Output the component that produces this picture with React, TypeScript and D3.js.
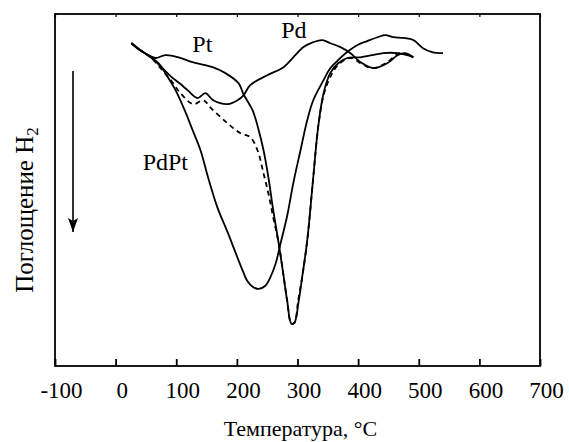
import React, { useEffect, useRef } from 'react';
import * as d3 from 'd3';

const margin = { top: 14, right: 29, bottom: 76, left: 55 };
const width = 569;
const height = 442;

// temperature, °C
const ptTemp = [26, 35, 45, 58, 66, 82, 104, 127, 160, 181, 203, 211, 226, 236, 244, 252, 260, 269, 277, 283, 290, 295, 302, 308, 316, 326, 334, 343, 354, 367, 382, 404, 423, 442, 465, 481, 491];
const ptSignal = [91.7, 90.3, 89.2, 88.0, 87.5, 88.3, 87.7, 86.3, 84.9, 83.2, 80.3, 77.2, 72.6, 67.0, 61.3, 53.6, 44.2, 34.8, 25.6, 18.5, 12.0, 12.3, 18.5, 25.6, 35.6, 53.6, 67.8, 77.5, 83.2, 86.0, 87.5, 87.7, 88.3, 88.9, 88.9, 88.3, 87.7];

const pdTemp = [26, 41, 58, 74, 91, 107, 119, 135, 148, 161, 185, 201, 211, 222, 250, 277, 293, 310, 326, 341, 354, 371, 387, 404, 425, 448, 465, 478, 491];
const pdSignal = [91.7, 89.7, 87.7, 85.2, 82.3, 80.1, 78.3, 76.1, 77.5, 75.5, 74.4, 75.5, 76.9, 79.8, 82.6, 84.9, 87.7, 90.6, 92.0, 92.6, 91.7, 90.6, 88.9, 86.3, 84.6, 86.0, 88.3, 88.9, 87.7];

const pdptTemp = [26, 41, 58, 71, 84, 99, 114, 127, 140, 153, 168, 185, 201, 211, 217, 226, 236, 247, 255, 264, 272, 283, 293, 305, 316, 326, 343, 354, 367, 382, 399, 415, 432, 445, 458, 474, 491, 507, 522, 540];
const pdptSignal = [91.7, 89.7, 87.7, 86.0, 82.6, 78.3, 72.6, 67.0, 61.3, 53.3, 45.0, 37.9, 30.8, 26.5, 24.2, 22.5, 21.9, 22.8, 25.1, 29.1, 34.8, 42.7, 51.9, 61.3, 69.8, 75.5, 81.2, 84.6, 86.9, 89.2, 91.2, 92.3, 93.4, 94.0, 93.4, 93.2, 92.6, 90.3, 89.2, 88.9];

// mixture (dashed)
const mixTemp = [26, 41, 58, 74, 91, 107, 128, 145, 156, 185, 206, 222, 234, 244, 252, 260, 269, 277, 283, 290, 295, 301, 308, 316, 326, 334, 343, 354, 367, 387, 409, 425, 448, 469, 491];
const mixSignal = [91.7, 89.7, 87.7, 84.6, 81.2, 77.5, 74.4, 75.5, 73.5, 68.9, 66.1, 65.0, 61.3, 54.7, 49.0, 42.2, 34.8, 25.6, 18.5, 12.0, 12.3, 18.5, 25.6, 35.6, 53.6, 67.8, 76.9, 82.1, 85.5, 87.5, 85.5, 84.6, 86.3, 88.9, 87.7];

const xTicks = [-100, 0, 100, 200, 300, 400, 500, 600, 700];

const labels = [
    { text: 'Pt', t: 143, v: 89.2 },
    { text: 'Pd', t: 294, v: 93.2 },
    { text: 'PdPt', t: 82, v: 55.7 },
];

const font = 'Liberation Serif';

export default function App() {
    const ref = useRef<SVGSVGElement>(null);

    useEffect(() => {
        const svg = d3.select(ref.current);
        svg.selectAll('*').remove();

        const x = d3.scaleLinear().domain([-100, 700]).range([margin.left, width - margin.right]);
        const y = d3.scaleLinear().domain([0, 100]).range([height - margin.bottom, margin.top]);

        const line = d3
            .line<[number, number]>()
            .x((d) => x(d[0]))
            .y((d) => y(d[1]))
            .curve(d3.curveCatmullRom.alpha(0.5));

        const series = [
            { t: ptTemp, v: ptSignal, dash: null },
            { t: pdTemp, v: pdSignal, dash: null },
            { t: pdptTemp, v: pdptSignal, dash: null },
            { t: mixTemp, v: mixSignal, dash: '5,4' },
        ];

        series.forEach((s) => {
            const pts = s.t.map((t, i) => [t, s.v[i]] as [number, number]);
            svg.append('path')
                .attr('d', line(pts))
                .attr('fill', 'none')
                .attr('stroke', '#000')
                .attr('stroke-width', 1.8)
                .attr('stroke-linejoin', 'round')
                .attr('stroke-dasharray', s.dash);
        });

        // frame
        svg.append('rect')
            .attr('x', x(-100))
            .attr('y', y(100))
            .attr('width', x(700) - x(-100))
            .attr('height', y(0) - y(100))
            .attr('fill', 'none')
            .attr('stroke', '#000')
            .attr('stroke-width', 1.8);

        // ticks, inward
        const bottom = svg.append('g')
            .attr('transform', `translate(0, ${y(0)})`)
            .call(d3.axisBottom(x).tickValues(xTicks).tickSizeInner(-7).tickSizeOuter(0).tickPadding(16).tickFormat((d) => String(d)));
        bottom.select('.domain').remove();
        bottom.attr('font-family', null).attr('font-size', null);
        bottom.selectAll('line').attr('stroke-width', 1.8);
        bottom.selectAll('text')
            .attr('dx', 6)
            .style('font-family', font)
            .style('font-size', '23px')
            .attr('fill', '#000');

        const top = svg.append('g')
            .attr('transform', `translate(0, ${y(100)})`)
            .call(d3.axisTop(x).tickValues(xTicks).tickSizeInner(-3).tickSizeOuter(0).tickFormat(() => ''));
        top.select('.domain').remove();
        top.selectAll('line').attr('stroke-width', 1.2);

        // curve labels
        svg.selectAll('.lbl')
            .data(labels)
            .enter()
            .append('text')
            .attr('x', (d) => x(d.t))
            .attr('y', (d) => y(d.v))
            .attr('text-anchor', 'middle')
            .style('font-family', font)
            .style('font-size', '24px')
            .text((d) => d.text);

        // axis titles
        svg.append('text')
            .attr('x', x(300) + 3)
            .attr('y', 436)
            .attr('text-anchor', 'middle')
            .style('font-family', font)
            .style('font-size', '22px')
            .text('Температура, °C');

        const yl = svg.append('text')
            .attr('transform', `translate(33, ${(y(0) + y(100)) / 2 + 20}) rotate(-90)`)
            .attr('text-anchor', 'middle')
            .style('font-family', font)
            .style('font-size', '25px');
        yl.append('tspan').text('Поглощение H');
        yl.append('tspan').attr('dy', 5).style('font-size', '17px').text('2');

        // arrow
        svg.append('defs')
            .append('marker')
            .attr('id', 'arrowhead')
            .attr('viewBox', '0 0 10 14')
            .attr('refX', 5)
            .attr('refY', 14)
            .attr('markerWidth', 10)
            .attr('markerHeight', 14)
            .attr('markerUnits', 'userSpaceOnUse')
            .attr('orient', 0)
            .append('path')
            .attr('d', 'M0,0 L5,3 L10,0 L5,14 Z')
            .attr('fill', '#000');
        svg.append('line')
            .attr('x1', 73)
            .attr('x2', 73)
            .attr('y1', 71)
            .attr('y2', 232)
            .attr('stroke', '#000')
            .attr('stroke-width', 1.6)
            .attr('marker-end', 'url(#arrowhead)');
    }, []);

    return (
        <div style={{ position: 'absolute', left: 0, top: 0 }}>
            <svg ref={ref} width={width} height={height} style={{ display: 'block', background: '#fff' }} />
        </div>
    );
}
